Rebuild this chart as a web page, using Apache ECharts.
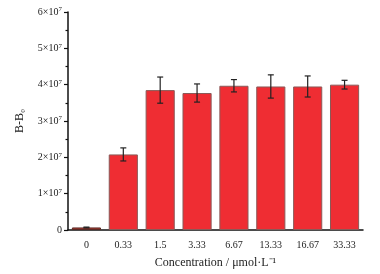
<!DOCTYPE html>
<html><head><meta charset="utf-8">
<script src="https://cdn.jsdelivr.net/npm/echarts@6/dist/echarts.min.js"></script>
<style>html,body{margin:0;padding:0;background:#fff}#c{width:380px;height:274px}</style>
</head><body><div id="c"></div>
<script>
var categories = ['0','0.33','1.5','3.33','6.67','13.33','16.67','33.33'];
var values = [0.07e7, 2.08e7, 3.85e7, 3.77e7, 3.97e7, 3.95e7, 3.95e7, 4.0e7];
var errors = [0.01e7, 0.18e7, 0.36e7, 0.25e7, 0.17e7, 0.32e7, 0.29e7, 0.12e7];
var yTicks = [0, 1e7, 2e7, 3e7, 4e7, 5e7, 6e7];

var chart = echarts.init(document.getElementById('c'));
var font = 'Liberation Serif';
var errData = values.map(function(v, i){ return [i, v - errors[i], v + errors[i]]; });
chart.setOption({
  animation: false,
  grid: {left: 68, right: 17, top: 12, bottom: 43},
  xAxis: [{
    type: 'category', data: categories,
    axisLine: {lineStyle: {color: '#111', width: 1.5}},
    axisTick: {alignWithLabel: true, length: 4, lineStyle: {color: '#111', width: 1.2}},
    axisLabel: {color: '#222', fontFamily: font, fontSize: 10, margin: 10},
    name: 'Concentration / μmol·L⁻¹', nameLocation: 'middle', nameGap: 27,
    nameTextStyle: {color: '#222', fontFamily: font, fontSize: 12}
  }, {
    type: 'category', data: categories, position: 'bottom',
    axisLine: {show: false},
    axisTick: {alignWithLabel: false, length: 2.5, lineStyle: {color: '#111', width: 1.2}},
    axisLabel: {show: false}
  }],
  yAxis: {
    type: 'value', min: 0, max: 6e7, interval: 1e7,
    axisLine: {show: true, lineStyle: {color: '#111', width: 1.5}},
    axisTick: {show: true, length: 4, lineStyle: {color: '#111', width: 1.2}},
    minorTick: {show: true, splitNumber: 2, length: 2.5, lineStyle: {color: '#111', width: 1.2}},
    splitLine: {show: false},
    axisLabel: {
      margin: 6,
      formatter: function(v){ if (v === 0) return '0'; return '{a|' + (v/1e7) + '×10}{s|7}'; },
      rich: {a: {fontFamily: font, fontSize: 10, color: '#222'}, s: {fontFamily: font, fontSize: 7, color: '#222', verticalAlign: 'top', padding: [0,0,5,0]}},
      color: '#222', fontFamily: font, fontSize: 10
    },
    name: 'B-B₀', nameLocation: 'middle', nameGap: 42,
    nameTextStyle: {color: '#222', fontFamily: font, fontSize: 12}
  },
  series: [{
    type: 'bar', barCategoryGap: '21%',
    data: values.map(function(v, i){
      return i === 0 ? {value: v, itemStyle: {color: '#a8382f', borderColor: '#5a2a25'}} : v;
    }),
    itemStyle: {color: '#ef2d33', borderColor: '#8a5a58', borderWidth: 1}
  }, {
    type: 'custom', data: errData,
    renderItem: function(params, api){
      var x = api.value(0);
      var lo = api.coord([x, api.value(1)]);
      var hi = api.coord([x, api.value(2)]);
      var w = 3;
      var st = {stroke: '#222', lineWidth: 1.2};
      return {type: 'group', children: [
        {type: 'line', shape: {x1: hi[0], y1: hi[1], x2: lo[0], y2: lo[1]}, style: st},
        {type: 'line', shape: {x1: hi[0]-w, y1: hi[1], x2: hi[0]+w, y2: hi[1]}, style: st},
        {type: 'line', shape: {x1: lo[0]-w, y1: lo[1], x2: lo[0]+w, y2: lo[1]}, style: st}
      ]};
    },
    z: 10
  }]
});
</script></body></html>
